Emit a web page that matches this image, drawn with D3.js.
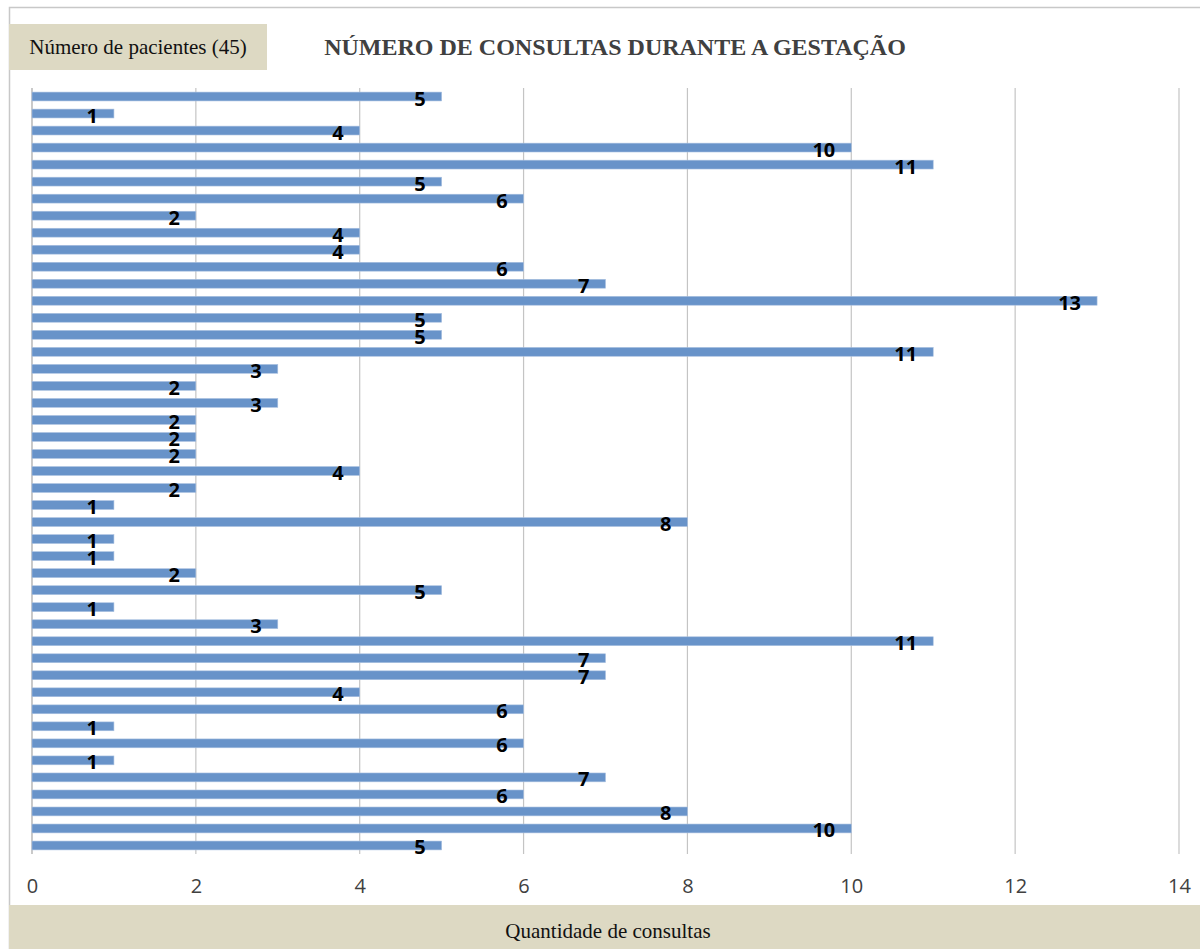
<!DOCTYPE html>
<html>
<head>
<meta charset="utf-8">
<script src="https://cdn.jsdelivr.net/npm/d3@7"></script>
<style>
  body { margin: 0; background: #fff; }
  .tick text { font-family: "Open Sans", "DejaVu Sans", sans-serif; }
</style>
</head>
<body>
<div id="chart"></div>
<script>
// consultations per patient, top to bottom
const patients = d3.range(1, 46).map(i => 'P' + i);
const consultas = [5, 1, 4, 10, 11, 5, 6, 2, 4, 4, 6, 7, 13, 5, 5, 11, 3, 2, 3, 2,
    2, 2, 4, 2, 1, 8, 1, 1, 2, 5, 1, 3, 11, 7, 7, 4, 6, 1, 6, 1,
    7, 6, 8, 10, 5];
const xTicks = [0, 2, 4, 6, 8, 10, 12, 14];

const width = 1200, height = 949;
const plot = { left: 32, right: 1179, top: 88, bottom: 854 };

const svg = d3.select('#chart').append('svg')
    .attr('width', width)
    .attr('height', height);

// outer frame
svg.append('rect')
    .attr('x', 9.5).attr('y', 7.5)
    .attr('width', 1200).attr('height', 960)
    .attr('fill', '#fff')
    .attr('stroke', '#c8c8c8')
    .attr('stroke-width', 1.5);

// patients box
svg.append('rect')
    .attr('x', 9).attr('y', 24)
    .attr('width', 258).attr('height', 46)
    .attr('fill', '#ddd9c3');
svg.append('text')
    .attr('x', 138).attr('y', 54)
    .attr('text-anchor', 'middle')
    .style('font-family', '"Liberation Serif", serif')
    .style('font-size', '21px')
    .attr('fill', '#111')
    .text('Número de pacientes (45)');

// title
svg.append('text')
    .attr('x', 615).attr('y', 55)
    .attr('text-anchor', 'middle')
    .style('font-family', '"Liberation Serif", serif')
    .style('font-size', '24px')
    .style('font-weight', 'bold')
    .attr('fill', '#404040')
    .text('NÚMERO DE CONSULTAS DURANTE A GESTAÇÃO');

const x = d3.scaleLinear().domain([0, 14]).range([plot.left, plot.right]);
const y = d3.scaleBand().domain(patients).range([plot.top, plot.bottom]).paddingInner(0.48).paddingOuter(0.24);

// gridlines
svg.append('g')
    .selectAll('line')
    .data(xTicks)
    .enter()
    .append('line')
        .attr('x1', d => x(d)).attr('x2', d => x(d))
        .attr('y1', plot.top).attr('y2', plot.bottom)
        .attr('stroke', d => d === 0 ? '#a6a6a6' : '#c4c4c4')
        .attr('stroke-width', 1.2);

// tick labels
const xAxis = d3.axisBottom(x).tickValues(xTicks).tickSize(0).tickPadding(0);
svg.append('g')
    .attr('transform', `translate(0, 893)`)
    .call(xAxis)
    .call(g => g.select('.domain').remove())
    .call(g => g.selectAll('text')
        .attr('dy', 0)
        .style('font-size', '20px')
        .attr('fill', '#404040'));

// bars
svg.append('g')
    .selectAll('rect')
    .data(consultas)
    .enter()
    .append('rect')
        .attr('x', x(0))
        .attr('y', (d, i) => y(patients[i]))
        .attr('width', d => x(d) - x(0))
        .attr('height', y.bandwidth())
        .attr('fill', '#6893c9')
        .attr('stroke', '#a9c0e0')
        .attr('stroke-width', 0.6);

// value labels
svg.append('g')
    .selectAll('text')
    .data(consultas)
    .enter()
    .append('text')
        .attr('x', d => x(d) - 16)
        .attr('y', (d, i) => y(patients[i]) + y.bandwidth() / 2 + 9)
        .attr('text-anchor', 'end')
        .style('font-family', '"Open Sans", "DejaVu Sans", sans-serif')
        .style('font-size', '20px')
        .style('font-weight', 'bold')
        .attr('fill', '#000')
        .text(d => d);

// bottom axis title box
svg.append('rect')
    .attr('x', 9).attr('y', 905)
    .attr('width', 1191).attr('height', 44)
    .attr('fill', '#ddd9c3');
svg.append('text')
    .attr('x', 608).attr('y', 938)
    .attr('text-anchor', 'middle')
    .style('font-family', '"Liberation Serif", serif')
    .style('font-size', '21px')
    .attr('fill', '#111')
    .text('Quantidade de consultas');
</script>
</body>
</html>
